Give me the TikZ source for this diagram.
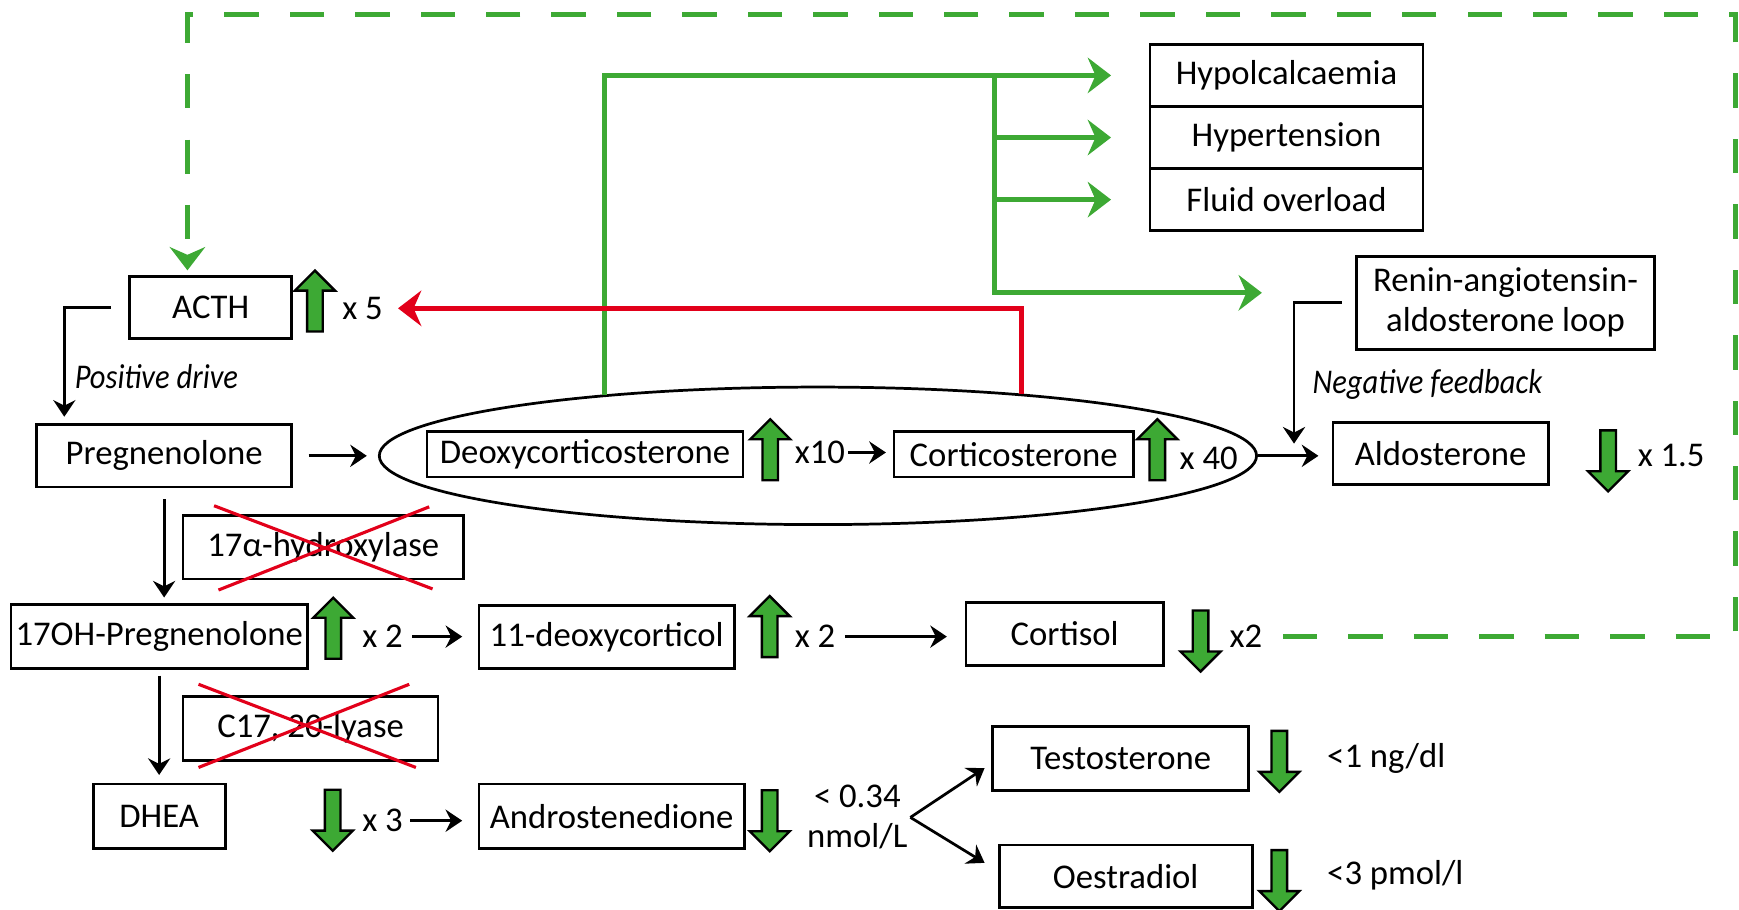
\documentclass[tikz,border=0pt]{standalone}
\usepackage{fontspec}
\setmainfont{Carlito}
\usetikzlibrary{arrows.meta,shapes.geometric,shapes.arrows}
\definecolor{agreen}{RGB}{61,169,52}
\definecolor{ared}{RGB}{226,0,26}
\begin{document}
\begin{tikzpicture}
      [font=\fontsize{8.9}{10.3}\selectfont,
       box/.style={draw, line width=0.7pt, inner sep=0pt},
       lbl/.style={anchor=west, inner sep=0pt},
       note/.style={font=\fontsize{8.9}{10.3}\selectfont\itshape, transform shape, xscale=0.88},
       arr/.style={line width=0.7pt, -{Stealth[length=0.15cm,width=0.2cm,inset=0.05cm]}},
       garr/.style={agreen, line width=1.3pt, -{Stealth[length=0.21cm,width=0.32cm,inset=0.07cm]}},
       rarr/.style={ared, line width=1.3pt, -{Stealth[length=0.21cm,width=0.32cm,inset=0.07cm]}},
       gdash/.style={garr, dash pattern=on 0.31cm off 0.28cm},
       uparr/.style={single arrow, draw, fill=agreen, line width=0.6pt, inner sep=0.06cm,
         minimum height=0.55cm, single arrow head extend=0.11cm, single arrow tip angle=90,
         shape border rotate=90},
       downarr/.style={uparr, shape border rotate=270},
       cross/.style={ared, line width=0.8pt}]
      \useasboundingbox (0,0) rectangle (15.68,-8.20);
      \node[box, minimum width=1.46cm, minimum height=0.56cm](acth) at (1.90,-2.77) {ACTH};
      \node[box, minimum width=2.30cm, minimum height=0.56cm](preg) at (1.48,-4.11) {Pregnenolone};
      \node[draw, ellipse, line width=0.7pt, minimum width=7.91cm, minimum height=1.24cm](ell) at (7.375,-4.11) {};
      \node[box, minimum width=2.85cm, minimum height=0.41cm](deoxy) at (5.275,-4.095) {Deoxycorticosterone};
      \node[box, minimum width=2.16cm, minimum height=0.41cm](cortico) at (9.14,-4.095) {Corticosterone};
      \node[box, minimum width=1.94cm, minimum height=0.56cm](aldo) at (12.99,-4.09) {Aldosterone};
      \node[box, minimum width=2.46cm, minimum height=0.56cm](hypo) at (11.60,-0.68) {Hypolcalcaemia};
      \node[box, minimum width=2.46cm, minimum height=0.56cm](hyper) at (11.60,-1.24) {Hypertension};
      \node[box, minimum width=2.46cm, minimum height=0.56cm](fluid) at (11.60,-1.80) {Fluid overload};
      \node[box, minimum width=2.69cm, minimum height=0.84cm, align=center](renin) at (13.575,-2.73) {Renin-angiotensin-\\aldosterone loop};
      \node[box, minimum width=2.53cm, minimum height=0.57cm](enz1) at (2.915,-4.935) {17α-hydroxylase};
      \node[box, minimum width=2.67cm, minimum height=0.58cm](oh17) at (1.435,-5.74) {17OH-Pregnenolone};
      \node[box, minimum width=2.30cm, minimum height=0.57cm](deoxcl) at (5.47,-5.745) {11-deoxycorticol};
      \node[box, minimum width=1.78cm, minimum height=0.57cm](cortisol) at (9.60,-5.715) {Cortisol};
      \node[box, minimum width=2.30cm, minimum height=0.58cm](enz2) at (2.80,-6.57) {C17, 20-lyase};
      \node[box, minimum width=1.19cm, minimum height=0.58cm](dhea) at (1.435,-7.36) {DHEA};
      \node[box, minimum width=2.39cm, minimum height=0.58cm](andro) at (5.515,-7.36) {Androstenedione};
      \node[box, minimum width=2.31cm, minimum height=0.58cm](testo) at (10.105,-6.84) {Testosterone};
      \node[box, minimum width=2.28cm, minimum height=0.56cm](oestr) at (10.15,-7.90) {Oestradiol};
      \node[uparr](u1) at (2.84,-2.75) {};
      \node[uparr](u2) at (6.945,-4.09) {};
      \node[uparr](u3) at (10.435,-4.09) {};
      \node[downarr](d1) at (14.50,-4.12) {};
      \node[uparr](u4) at (3.005,-5.70) {};
      \node[uparr](u5) at (6.94,-5.685) {};
      \node[downarr](d2) at (10.825,-5.745) {};
      \node[downarr](d3) at (3.00,-7.36) {};
      \node[downarr](d4) at (6.94,-7.365) {};
      \node[downarr](d5) at (11.535,-6.83) {};
      \node[downarr](d6) at (11.535,-7.905) {};
      \node[lbl](f1) at (3.08,-2.78) {x 5};
      \node[lbl](f2) at (7.16,-4.08) {x10};
      \node[lbl](f3) at (10.63,-4.13) {x 40};
      \node[lbl](f4) at (14.76,-4.11) {x 1.5};
      \node[lbl](f5) at (3.26,-5.74) {x 2};
      \node[lbl](f6) at (7.16,-5.74) {x 2};
      \node[lbl](f7) at (11.08,-5.74) {x2};
      \node[lbl](f8) at (3.26,-7.40) {x 3};
      \node[inner sep=0pt, align=center](f9) at (7.73,-7.37) {< 0.34\\nmol/L};
      \node[lbl](f10) at (11.96,-6.84) {<1 ng/dl};
      \node[lbl](f11) at (11.96,-7.89) {<3 pmol/l};
      \node[note](pos) at (1.41,-3.40) {Positive drive};
      \node[note](neg) at (12.87,-3.47) {Negative feedback};
      \coordinate(gs) at (8.97,-0.66);
      \draw[gdash]([xshift=0.18cm]f7.east) -| (15.65,-0.13) -| ([xshift=-0.21cm, yshift=0.04cm]acth.north);
      \draw[garr](ell.164) |- ([xshift=-0.34cm]hypo.west);
      \draw[garr](gs) |- ([xshift=-0.34cm]hyper.west);
      \draw[garr](gs) |- ([xshift=-0.34cm]fluid.west);
      \draw[garr](gs) |- ([xshift=-0.84cm, yshift=0.09cm]renin.west);
      \draw[rarr](ell.17) |- ([xshift=0.13cm]f1.east);
      \draw[arr]([xshift=-0.16cm]acth.west) -| ([xshift=-0.90cm, yshift=0.06cm]preg.north);
      \draw[arr]([xshift=-0.12cm]renin.west) -| ([xshift=-0.34cm, yshift=0.09cm]aldo.west);
      \draw[arr]([xshift=0.14cm]preg.east) -- ([xshift=-0.10cm]ell.west);
      \draw[arr]([xshift=0.02cm]f2.east) -- ([xshift=-0.06cm]cortico.west |- f2.east);
      \draw[arr](ell.east) -- ([xshift=-0.12cm]aldo.west |- ell.east);
      \draw[arr]([yshift=-0.10cm]preg.south) -- ([yshift=0.05cm]preg.south |- oh17.north);
      \draw[arr]([yshift=-0.05cm]oh17.south) -- ([yshift=0.07cm]dhea.north);
      \draw[arr]([xshift=0.08cm]f5.east) -- ([xshift=-0.14cm]deoxcl.west |- f5.east);
      \draw[arr]([xshift=0.08cm]f6.east) -- ([xshift=-0.16cm]cortisol.west |- f6.east);
      \draw[arr]([xshift=0.06cm]f8.east) -- ([xshift=-0.14cm]andro.west |- f8.east);
      \draw[arr]([xshift=0.02cm]f9.east) -- ([xshift=-0.06cm, yshift=-0.085cm]testo.west);
      \draw[arr]([xshift=0.02cm]f9.east) -- ([xshift=-0.12cm, yshift=0.12cm]oestr.west);
      \draw[cross](1.93,-4.56) -- (3.90,-5.31);
      \draw[cross](1.97,-5.32) -- (3.87,-4.57);
      \draw[cross](1.79,-6.17) -- (3.75,-6.92);
      \draw[cross](1.79,-6.92) -- (3.69,-6.17);
  \end{tikzpicture}
\end{document}
